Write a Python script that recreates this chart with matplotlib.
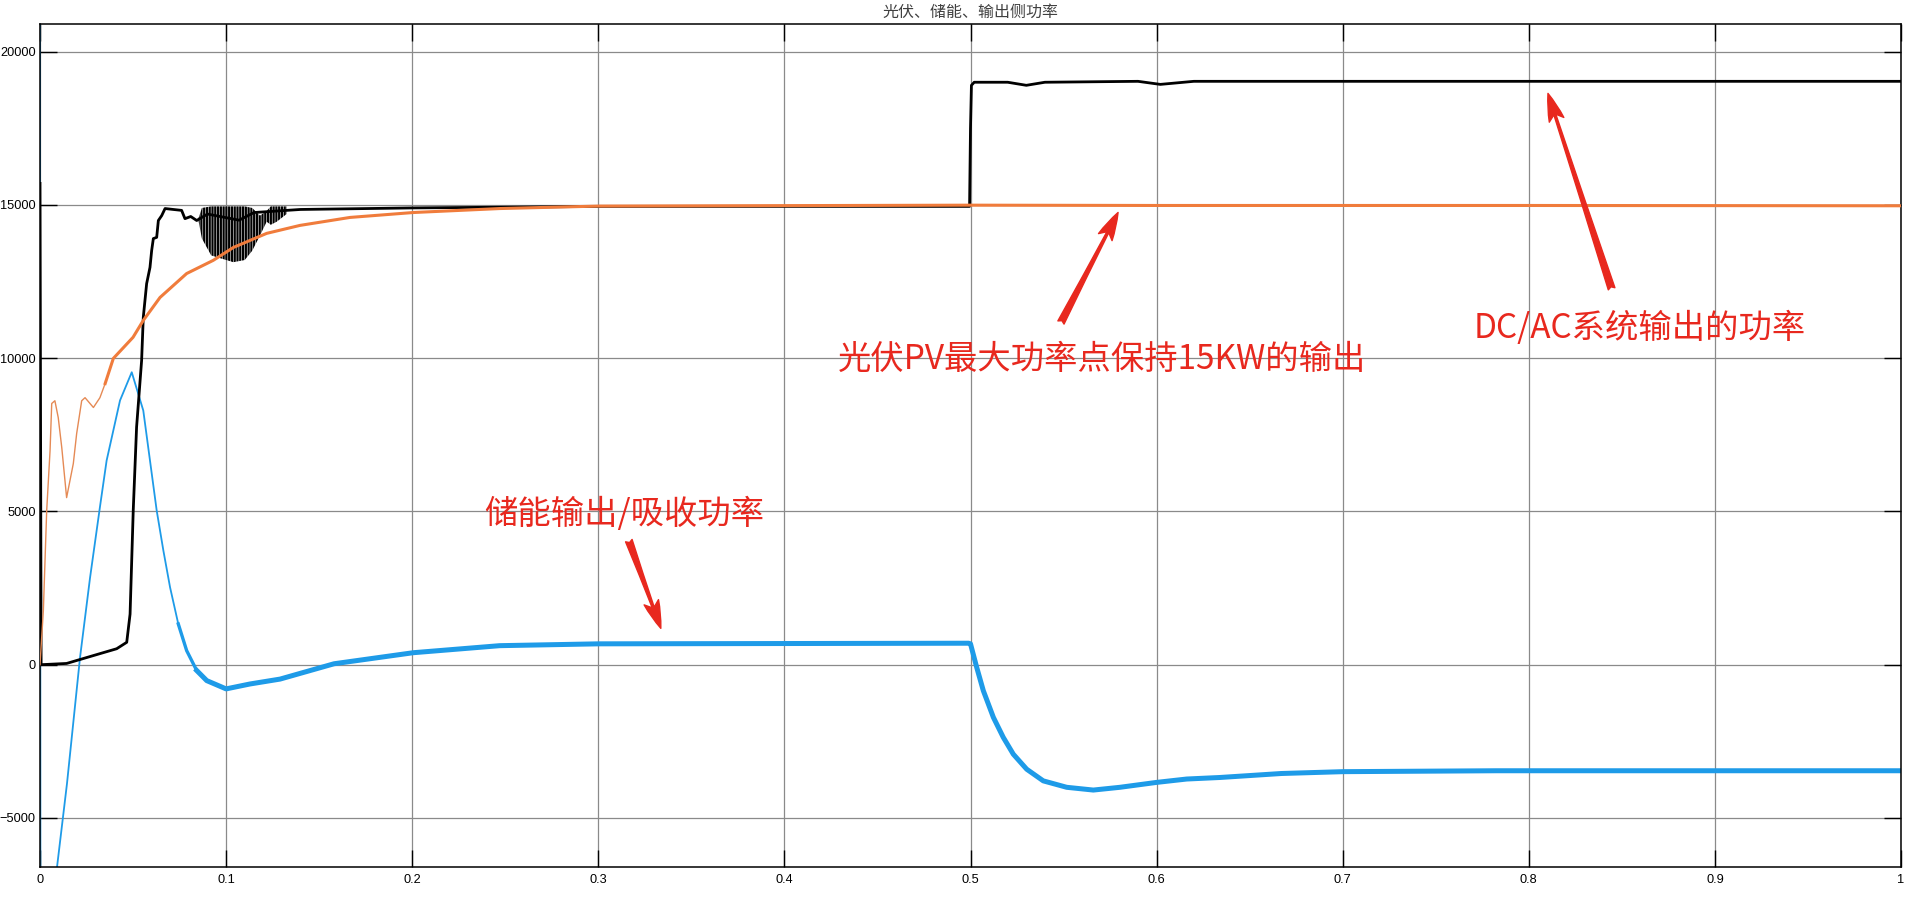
import numpy as np
import matplotlib.pyplot as plt
from matplotlib.patches import FancyArrowPatch

plt.rcParams['font.family'] = ['Noto Sans CJK SC', 'DejaVu Sans']
plt.rcParams['hatch.linewidth'] = 1.6

# 储能 (蓝) 功率波形读数
t_ess = [0, 0.0002, 0.0044, 0.0091, 0.0145, 0.0215, 0.0269, 0.0322, 0.0358, 0.043,
         0.0493, 0.0555, 0.0591, 0.0627, 0.0663, 0.0699, 0.0743, 0.0788, 0.0842, 0.0896,
         0.1, 0.1128, 0.129, 0.158, 0.2005, 0.247, 0.3, 0.4, 0.499,
         0.5, 0.5033, 0.5069, 0.5123, 0.5176, 0.523, 0.5302, 0.5391, 0.5517, 0.566,
         0.5803, 0.6, 0.6162, 0.634, 0.667, 0.7, 0.7825, 1.0]
p_ess = [21500, -9000, -9000, -6625, -3880, 230, 2840, 5140, 6660, 8620,
         9540, 8290, 6660, 5030, 3720, 2520, 1330, 460, -190, -520,
         -790, -630, -470, 30, 390, 620, 680, 690, 700,
         680, -80, -850, -1720, -2370, -2920, -3410, -3790, -4000, -4090,
         -4000, -3840, -3730, -3680, -3550, -3490, -3460, -3460]

# 光伏 (橙) 功率
t_pv = [0, 0.0018, 0.0036, 0.0054, 0.0063, 0.008, 0.0098, 0.0117, 0.0143, 0.0179,
        0.0197, 0.0224, 0.0242, 0.0287, 0.0322, 0.035, 0.0394, 0.05, 0.0555, 0.0645,
        0.0788, 0.0931, 0.1039, 0.1218, 0.1397, 0.1666, 0.2005, 0.2472, 0.3, 0.5,
        0.6, 0.8, 1.0]
p_pv = [0, 1760, 5030, 6980, 8520, 8610, 8060, 7080, 5450, 6560,
        7540, 8610, 8710, 8390, 8710, 9170, 9990, 10680, 11230, 11980,
        12760, 13190, 13610, 14070, 14330, 14590, 14750, 14880, 14960, 14990,
        14980, 14980, 14970]

# DC/AC 输出 (黑) 功率
t_out = [0, 0.0006, 0.0143, 0.0322, 0.0412, 0.0466, 0.0484, 0.0501, 0.0519, 0.0546,
         0.0555, 0.0573, 0.0591, 0.06, 0.0609, 0.0627, 0.0636, 0.0654, 0.0672,
         0.0716, 0.0761, 0.0779, 0.081, 0.0842, 0.09, 0.107, 0.115, 0.1325, 0.14,
         0.2, 0.3, 0.4995, 0.5, 0.5005, 0.502, 0.52, 0.53, 0.54, 0.59, 0.602, 0.62, 1.0]
p_out = [15700, 0, 40, 360, 520, 730, 1650, 5030, 7750, 9920,
         11330, 12430, 12960, 13510, 13900, 13940, 14490, 14650, 14880,
         14850, 14820, 14550, 14620, 14490, 14700, 14500, 14750, 14820, 14850,
         14900, 14950, 14950, 17500, 18900, 19000, 19000, 18900, 19000, 19030, 18930, 19030, 19030]

# 0.085~0.133 s 黑线振荡包络
t_osc = [0.0851, 0.087, 0.092, 0.1039, 0.110, 0.114, 0.1182, 0.1218, 0.124, 0.1272, 0.1325]
osc_hi = [14550, 14900, 14950, 14950, 14950, 14900, 14650, 14800, 14950, 14950, 14950]
osc_lo = [14500, 13900, 13350, 13130, 13200, 13500, 14000, 14450, 14350, 14450, 14700]

fig = plt.figure(figsize=(19.18, 8.97), dpi=100)
ax = fig.add_axes([40 / 1918, 1 - 867 / 897, 1861 / 1918, 843 / 897])

blue = '#1e9be8'
orange = '#f07c3c'
red = '#e8281e'

t_ess = np.array(t_ess)
p_ess = np.array(p_ess)
seg_thin = t_ess <= 0.0788
seg_mid = (t_ess >= 0.0743) & (t_ess <= 0.0896)
seg_thick = t_ess >= 0.0842
ax.plot(t_ess[seg_thin], p_ess[seg_thin], color=blue, lw=1.3, zorder=2)
ax.plot(t_ess[seg_mid], p_ess[seg_mid], color=blue, lw=2.4, zorder=2)
ax.plot(t_ess[seg_thick], p_ess[seg_thick], color=blue, lw=3.6, zorder=2)

t_pv = np.array(t_pv)
p_pv = np.array(p_pv)
ax.plot(t_pv[t_pv <= 0.035], p_pv[t_pv <= 0.035], color='#e58a55', lw=1.0, zorder=3)
ax.plot(t_pv[t_pv >= 0.035], p_pv[t_pv >= 0.035], color=orange, lw=2.2, zorder=3)

ax.plot(t_out, p_out, color='black', lw=2.0, zorder=2.5)
ax.fill_between(t_osc, osc_lo, osc_hi, facecolor='none', edgecolor='black',
                hatch='||||||', lw=0, zorder=2.5)

ax.set_xlim(0, 1)
ax.set_ylim(-6600, 20900)
ax.set_xticks(np.arange(0, 1.01, 0.1))
ax.set_xticklabels(['0', '0.1', '0.2', '0.3', '0.4', '0.5', '0.6', '0.7', '0.8', '0.9', '1'])
ax.set_yticks([-5000, 0, 5000, 10000, 15000, 20000])
ax.grid(True, color='#8a8a8a', lw=0.9)
ax.set_axisbelow(True)
ax.tick_params(direction='in', length=12, width=1, top=True, right=True,
               labelsize=9.2, pad=3, colors='black')
ax.tick_params(axis='x', pad=5)
for lab in ax.get_xticklabels() + ax.get_yticklabels():
    lab.set_family(['Liberation Sans', 'DejaVu Sans'])
for s in ax.spines.values():
    s.set_linewidth(1.1)

ax.set_title('光伏、储能、输出侧功率', fontsize=11.5, color='#404040', pad=5)

# 标注
ax.text(0.5707, 9950, '光伏PV最大功率点保持15KW的输出', color=red, fontsize=24,
        ha='center', va='center', zorder=5)
ax.text(0.8598, 10966, 'DC/AC系统输出的功率', color=red, fontsize=24,
        ha='center', va='center', zorder=5)
ax.text(0.3138, 4895, '储能输出/吸收功率', color=red, fontsize=24,
        ha='center', va='center', zorder=5)

arrows = [((0.5486, 11162), (0.5793, 14752)),
          ((0.8445, 12262), (0.8103, 18636)),
          ((0.3164, 4047), (0.3336, 1185))]
for tail, tip in arrows:
    ax.add_patch(FancyArrowPatch(tail, tip, arrowstyle='fancy,head_length=20,head_width=11,tail_width=5',
                                 mutation_scale=1, color=red, shrinkA=0, shrinkB=0, zorder=6))

plt.savefig('out.png', dpi=100)
